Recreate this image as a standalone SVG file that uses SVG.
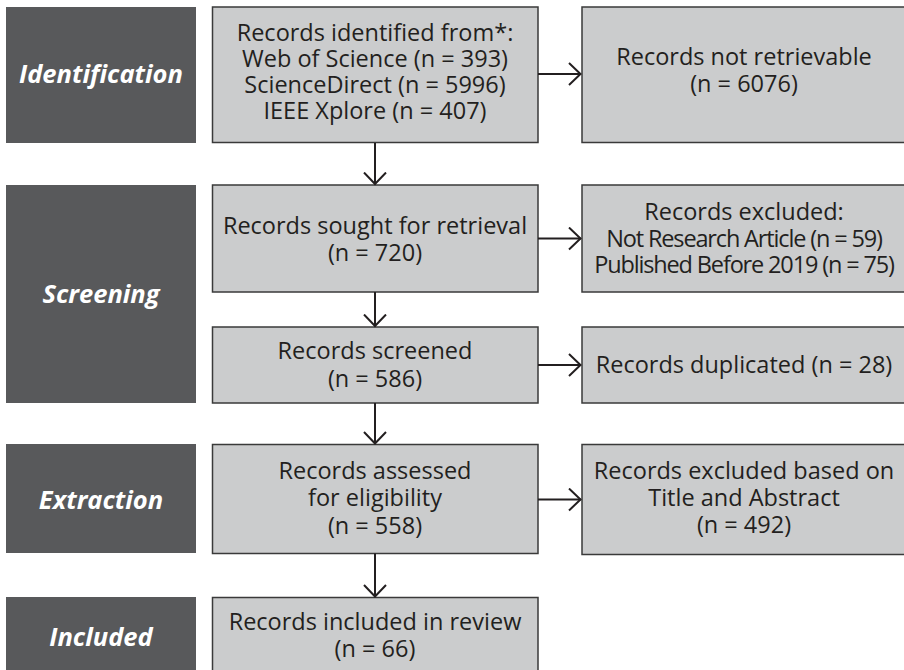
<svg xmlns="http://www.w3.org/2000/svg" width="904" height="670" viewBox="0 0 904 670">
  <defs>
    <style>
      .stage { fill: #58595b; }
      .box { fill: #cbcccd; stroke: #3a3a3a; stroke-width: 1.5; }
      .t { font-family: "Open Sans", "Liberation Sans", sans-serif; font-size: 23.5px; fill: #231f20; text-anchor: middle; }
      .lbl { font-family: "Open Sans", "Liberation Sans", sans-serif; font-size: 25.5px; font-weight: bold; font-style: italic; fill: #ffffff; text-anchor: middle; }
      .tight { letter-spacing: -1.15px; }
      .conn { stroke: #231f20; stroke-width: 2; fill: none; }
    </style>
    <marker id="arr" viewBox="0 0 14 24" refX="13" refY="12" markerWidth="14" markerHeight="24" markerUnits="userSpaceOnUse" orient="auto">
      <path d="M1,1 L12.5,12 L1,23" fill="none" stroke="#231f20" stroke-width="2"/>
    </marker>
  </defs>

  <g id="stage-identification">
    <rect class="stage" x="6" y="7" width="190" height="136"/>
    <text class="lbl" x="101" y="83">Identification</text>
  </g>
  <g id="stage-screening">
    <rect class="stage" x="6" y="185" width="190" height="218"/>
    <text class="lbl" x="101" y="303">Screening</text>
  </g>
  <g id="stage-extraction">
    <rect class="stage" x="6" y="444" width="190" height="109"/>
    <text class="lbl" x="101" y="509">Extraction</text>
  </g>
  <g id="stage-included">
    <rect class="stage" x="6" y="597" width="190" height="80"/>
    <text class="lbl" x="101" y="646">Included</text>
  </g>

  <g id="identified">
    <rect class="box" x="212.5" y="7" width="325.5" height="135.5"/>
    <text class="t"><tspan x="375" y="41">Records identified from*:</tspan><tspan x="375" y="67">Web of Science (n = 393)</tspan><tspan x="375" y="93">ScienceDirect (n = 5996)</tspan><tspan x="375" y="119">IEEE Xplore (n = 407)</tspan></text>
  </g>
  <g id="sought">
    <rect class="box" x="212.5" y="185" width="325.5" height="107"/>
    <text class="t"><tspan x="375" y="233.5">Records sought for retrieval</tspan><tspan x="375" y="260.5">(n = 720)</tspan></text>
  </g>
  <g id="screened">
    <rect class="box" x="212.5" y="327" width="325.5" height="76"/>
    <text class="t"><tspan x="375" y="359">Records screened</tspan><tspan x="375" y="386.5">(n = 586)</tspan></text>
  </g>
  <g id="assessed">
    <rect class="box" x="212.5" y="444.5" width="325.5" height="109"/>
    <text class="t"><tspan x="375" y="478.5">Records assessed</tspan><tspan x="375" y="506">for eligibility</tspan><tspan x="375" y="533.5">(n = 558)</tspan></text>
  </g>
  <g id="included">
    <rect class="box" x="212.5" y="597.5" width="325.5" height="80"/>
    <text class="t"><tspan x="375" y="630">Records included in review</tspan><tspan x="375" y="657">(n = 66)</tspan></text>
  </g>

  <g id="not-retrievable">
    <rect class="box" x="582" y="7" width="325" height="135.5"/>
    <text class="t"><tspan x="744" y="65">Records not retrievable</tspan><tspan x="744" y="92">(n = 6076)</tspan></text>
  </g>
  <g id="excluded">
    <rect class="box" x="582" y="185" width="325" height="107"/>
    <text class="t"><tspan x="744" y="220">Records excluded:</tspan><tspan class="tight" x="744" y="246.5">Not Research Article (n = 59)</tspan><tspan class="tight" x="744" y="273">Published Before 2019 (n = 75)</tspan></text>
  </g>
  <g id="duplicated">
    <rect class="box" x="582" y="327" width="325" height="76"/>
    <text class="t" x="744" y="372.5">Records duplicated (n = 28)</text>
  </g>
  <g id="excluded-title">
    <rect class="box" x="582" y="444.5" width="325" height="110"/>
    <text class="t"><tspan x="744" y="479">Records excluded based on</tspan><tspan x="744" y="506">Title and Abstract</tspan><tspan x="744" y="533">(n = 492)</tspan></text>
  </g>

  <g id="connectors">
    <line class="conn" x1="375" y1="143" x2="375" y2="184.5" marker-end="url(#arr)"/>
    <line class="conn" x1="375" y1="292" x2="375" y2="326.5" marker-end="url(#arr)"/>
    <line class="conn" x1="375" y1="403" x2="375" y2="444" marker-end="url(#arr)"/>
    <line class="conn" x1="375" y1="553.5" x2="375" y2="597" marker-end="url(#arr)"/>
    <line class="conn" x1="538" y1="74" x2="581" y2="74" marker-end="url(#arr)"/>
    <line class="conn" x1="538" y1="238.5" x2="581" y2="238.5" marker-end="url(#arr)"/>
    <line class="conn" x1="538" y1="365" x2="581" y2="365" marker-end="url(#arr)"/>
    <line class="conn" x1="538" y1="499.5" x2="581" y2="499.5" marker-end="url(#arr)"/>
  </g>
</svg>
